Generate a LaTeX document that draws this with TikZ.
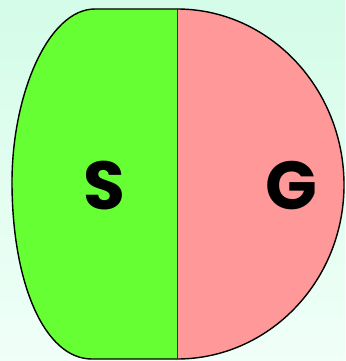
\documentclass[tikz,border=0pt]{standalone}
\usepackage{fontspec}
\newfontfamily\lblfont{Poppins}
\usepackage{tikz}
\usetikzlibrary{positioning}
\definecolor{sgreen}{RGB}{102,255,51}
\definecolor{gpink}{RGB}{255,153,153}
\definecolor{bgtop}{RGB}{212,252,232}
\definecolor{bgbot}{RGB}{240,255,248}

\begin{document}
\begin{tikzpicture}[
  x=1pt, y=-1pt,
  half/.style={draw=black, line width=1.4pt, line join=round},
  lbl/.style={font=\lblfont\bfseries\fontsize{68}{68}\selectfont, text=black, inner sep=0pt}
]
% ---------------- background
\shade[top color=bgtop, bottom color=bgbot] (0,0) rectangle (345,361);
\useasboundingbox (0,0) rectangle (345,361);
% ---------------- left half
\filldraw[half, fill=sgreen] (177,9) -- (95,9)
  .. controls (48,9) and (12,95) .. (12,182)
  .. controls (12,282) and (44,359) .. (92,359) -- (177,359);
% ---------------- right half
\filldraw[half, fill=gpink] (177,9)
  .. controls (269,9) and (344,88) .. (344,185)
  .. controls (344,281) and (269,359) .. (177,359);
% ---------------- divider
\draw[line width=0.9pt, black!80] (177,9) -- (177,359);
% ---------------- labels
\node[lbl] (s) at (104,186) {S};
\node[lbl] (g) at (291,186) {G};
\end{tikzpicture}
\end{document}
